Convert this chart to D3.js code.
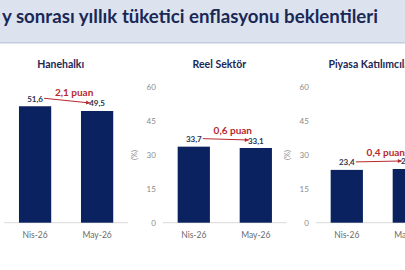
<!DOCTYPE html>
<html>
<head>
<meta charset="utf-8">
<script src="https://cdn.jsdelivr.net/npm/d3@7"></script>
<style>
  html, body { margin: 0; padding: 0; background: #fff; overflow: hidden; }
  svg { display: block; font-family: Lato, "Open Sans", sans-serif; }
</style>
</head>
<body>
<div id="chart"></div>
<script>
// veriler
var titleText = "y sonrası yıllık tüketici enflasyonu beklentileri";
var panelNames = ["Hanehalkı", "Reel Sektör", "Piyasa Katılımcıları"];
var months = ["Nis-26", "May-26"];
var nisValues = [51.6, 33.7, 23.4];
var mayValues = [49.5, 33.1, 23.8];
var changeLabels = ["2,1 puan", "0,6 puan", "0,4 puan"];
var yTicks = [0, 15, 30, 45, 60];

var width = 405, height = 270;
var panelLeft = [-10.8, 147.9, 300.9];
var panelWidth = 153.8;
var navy = "#0b2260", red = "#b8282e";

var svg = d3.select("#chart").append("svg")
  .attr("width", width)
  .attr("height", height);

// başlık bandı
svg.append("rect")
  .attr("x", 0).attr("y", 0)
  .attr("width", width).attr("height", 42)
  .attr("fill", "#dce3ee");
svg.append("rect")
  .attr("x", 0).attr("y", 42)
  .attr("width", width).attr("height", 1.5)
  .attr("fill", "#c3cbdc");
svg.append("text")
  .attr("x", 2)
  .attr("y", 23)
  .attr("fill", "#1a2856")
  .attr("textLength", 376)
  .attr("lengthAdjust", "spacingAndGlyphs")
  .style("font-size", "18.5px")
  .style("font-weight", "bold")
  .text(titleText);

var y = d3.scaleLinear()
  .domain([0, 60])
  .range([222.7, 87.3]);

function fmt(v) { return d3.format(".1f")(v).replace(".", ","); }

panelNames.forEach(function(name, i) {
  var x0 = panelLeft[i];
  var values = [nisValues[i], mayValues[i]];
  var g = svg.append("g");

  var x = d3.scaleBand()
    .domain(months)
    .range([x0, x0 + panelWidth])
    .padding(0.48);

  // panel başlığı
  g.append("text")
    .attr("x", x0 + 71.5)
    .attr("y", 68)
    .attr("text-anchor", "middle")
    .attr("fill", "#1a2856")
    .style("font-size", "10.5px")
    .style("font-weight", "bold")
    .text(name);

  // y ekseni (ilk panelde ekran dışında kalıyor)
  if (x0 + 8 > 10) {
    var yAxis = g.append("g")
      .attr("transform", "translate(" + (x0 + 8) + ",0)")
      .call(d3.axisLeft(y).tickValues(yTicks).tickSize(0).tickPadding(0));
    yAxis.select(".domain").remove();
    yAxis.selectAll("text")
      .attr("fill", "#8a8a8a")
      .style("font-family", "Lato, sans-serif")
      .style("font-size", "8px");

    g.append("text")
      .attr("transform", "translate(" + (x0 - 11) + ",155) rotate(-90)")
      .attr("text-anchor", "middle")
      .attr("fill", "#8a8a8a")
      .style("font-size", "7.5px")
      .text("(%)");
  }

  // taban çizgisi
  g.append("line")
    .attr("x1", x0 + 15).attr("x2", x0 + panelWidth - 15)
    .attr("y1", y(0)).attr("y2", y(0))
    .attr("stroke", "#d9d9d9")
    .attr("stroke-width", 1);

  // sütunlar
  g.selectAll(".bar")
    .data(values)
    .enter().append("rect")
    .attr("class", "bar")
    .attr("x", function(d, j) { return x(months[j]); })
    .attr("y", function(d) { return y(d); })
    .attr("width", x.bandwidth())
    .attr("height", function(d) { return y(0) - y(d); })
    .attr("fill", navy);

  // değer etiketleri
  g.selectAll(".label")
    .data(values)
    .enter().append("text")
    .attr("class", "label")
    .attr("x", function(d, j) { return x(months[j]) + x.bandwidth() / 2; })
    .attr("y", function(d) { return y(d) - 4.5; })
    .attr("text-anchor", "middle")
    .attr("fill", "#2a3550")
    .style("font-size", "8px")
    .style("font-weight", "bold")
    .text(fmt);

  // x ekseni etiketleri
  g.selectAll(".month")
    .data(months)
    .enter().append("text")
    .attr("class", "month")
    .attr("x", function(d) { return x(d) + x.bandwidth() / 2; })
    .attr("y", 238)
    .attr("text-anchor", "middle")
    .attr("fill", "#6b6b6b")
    .style("font-size", "8.5px")
    .text(function(d) { return d; });

  // ok ve fark etiketi
  var c1 = x(months[0]) + x.bandwidth() / 2;
  var c2 = x(months[1]) + x.bandwidth() / 2;
  var ax1 = c1 + 9, ay1 = y(values[0]) - 8;
  var ax2 = c2 - 7, ay2 = y(values[1]) - 8;
  g.append("line")
    .attr("x1", ax1).attr("y1", ay1)
    .attr("x2", ax2).attr("y2", ay2)
    .attr("stroke", red)
    .attr("stroke-width", 1);
  var ang = Math.atan2(ay2 - ay1, ax2 - ax1);
  var hl = 4, hw = 2;
  var p1 = [ax2 - hl * Math.cos(ang) + hw * Math.sin(ang), ay2 - hl * Math.sin(ang) - hw * Math.cos(ang)];
  var p2 = [ax2 - hl * Math.cos(ang) - hw * Math.sin(ang), ay2 - hl * Math.sin(ang) + hw * Math.cos(ang)];
  g.append("path")
    .attr("d", "M" + ax2 + "," + ay2 + "L" + p1.join(",") + "L" + p2.join(",") + "Z")
    .attr("fill", red);

  g.append("text")
    .attr("x", (ax1 + ax2) / 2 + 7)
    .attr("y", (ay1 + ay2) / 2 - 5)
    .attr("text-anchor", "middle")
    .attr("fill", red)
    .style("font-size", "10px")
    .style("font-weight", "bold")
    .text(changeLabels[i]);
});
</script>
</body>
</html>
